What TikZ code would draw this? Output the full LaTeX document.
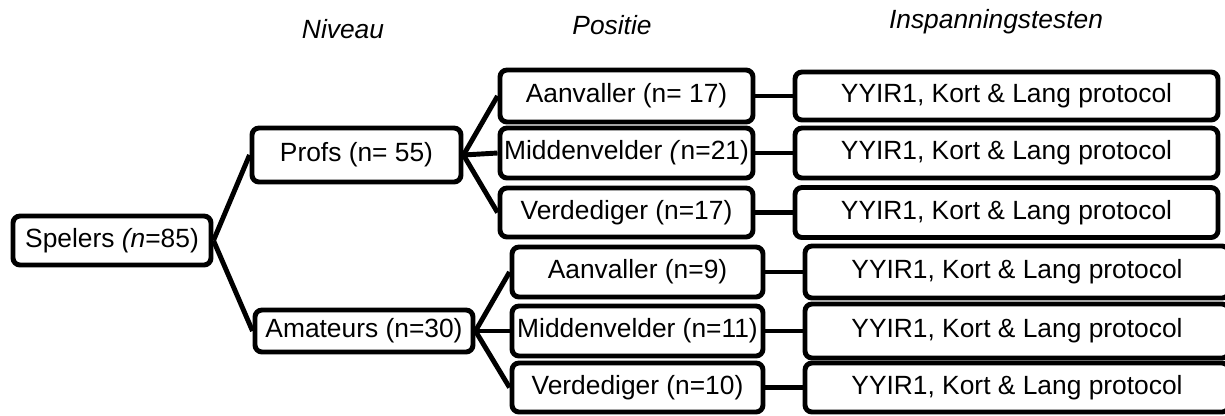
\documentclass[tikz,border=0pt]{standalone}
\usepackage{fontspec}
\setmainfont{Liberation Sans}

\begin{document}
\begin{tikzpicture}
	% Set styles
	\tikzset{group box/.style={draw, rounded corners=0.14cm, line width=2.8pt, inner sep=0pt, font=\fontsize{15}{18}\selectfont},
		branch/.style={line width=2.8pt},
		column title/.style={anchor=base, font=\fontsize{15}{18}\selectfont\itshape}}
	\useasboundingbox (0,0) rectangle (24.5,-8.3);
	
	% Column titles
	\node [column title] (tniveau) at (6.86,-0.76) {Niveau};
	\node [column title] (tpositie) at (12.24,-0.68) {Positie};
	\node [column title] (ttesten) at (19.92,-0.56) {Inspanningstesten};
	
	% Players and level
	\node [group box, minimum width=3.96cm, minimum height=0.98cm] (spelers) at (2.24,-4.81) {Spelers \textit{(n}=85)};
	\node [group box, minimum width=4.18cm, minimum height=1.08cm] (profs) at (7.13,-3.10) {Profs (n= 55)};
	\node [group box, minimum width=4.36cm, minimum height=0.84cm] (amateurs) at (7.28,-6.62) {Amateurs (n=30)};
	
	% Positions
	\node [group box, minimum width=5.06cm, minimum height=1.04cm] (aanvP) at (12.53,-1.92) {Aanvaller (n= 17)};
	\node [group box, minimum width=5.06cm, minimum height=1.0cm] (middP) at (12.53,-3.06) {Middenvelder \textit{(}n=21)};
	\node [group box, minimum width=5.06cm, minimum height=0.98cm] (verdP) at (12.53,-4.25) {Verdediger (n=17)};
	\node [group box, minimum width=5.02cm, minimum height=1.0cm] (aanvA) at (12.75,-5.44) {Aanvaller (n=9)};
	\node [group box, minimum width=5.02cm, minimum height=1.0cm] (middA) at (12.75,-6.62) {Middenvelder (n=11)};
	\node [group box, minimum width=5.02cm, minimum height=0.98cm] (verdA) at (12.75,-7.75) {Verdediger (n=10)};
	
	% Tests
	\node [group box, minimum width=8.46cm, minimum height=0.96cm] (testAP) at (20.13,-1.92) {YYIR1, Kort \& Lang protocol};
	\node [group box, minimum width=8.46cm, minimum height=1.0cm] (testMP) at (20.13,-3.06) {YYIR1, Kort \& Lang protocol};
	\node [group box, minimum width=8.46cm, minimum height=1.0cm] (testVP) at (20.13,-4.25) {YYIR1, Kort \& Lang protocol};
	\node [group box, minimum width=8.48cm, minimum height=1.04cm] (testAA) at (20.34,-5.44) {YYIR1, Kort \& Lang protocol};
	\node [group box, minimum width=8.48cm, minimum height=1.08cm] (testMA) at (20.34,-6.62) {YYIR1, Kort \& Lang protocol};
	\node [group box, minimum width=8.48cm, minimum height=0.98cm] (testVA) at (20.34,-7.75) {YYIR1, Kort \& Lang protocol};
	
	% Branches
	\draw [branch] (spelers.east) -- (profs.west);
	\draw [branch] (spelers.east) -- (amateurs.west);
	\foreach \p in {aanvP, middP, verdP} {
		\draw [branch] (profs.east) -- (\p.west);
	}
	\foreach \p in {aanvA, middA, verdA} {
		\draw [branch] (amateurs.east) -- (\p.west);
	}
	\draw [branch] (aanvP.east) -- (testAP.west);
	\draw [branch] (middP.east) -- (testMP.west);
	\draw [branch] (verdP.east) -- (testVP.west);
	\draw [branch] (aanvA.east) -- (testAA.west);
	\draw [branch] (middA.east) -- (testMA.west);
	\draw [branch] (verdA.east) -- (testVA.west);
	
\end{tikzpicture}
\end{document}
